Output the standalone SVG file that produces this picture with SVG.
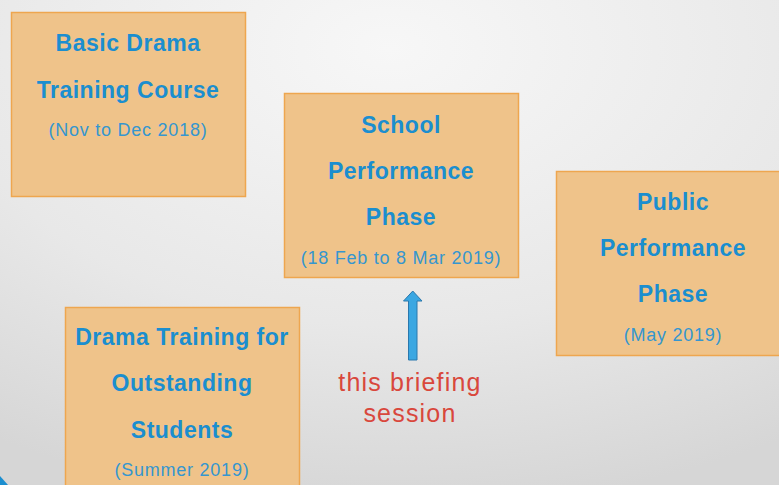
<svg xmlns="http://www.w3.org/2000/svg" width="779" height="485" viewBox="0 0 779 485">
<defs>
<radialGradient id="bg" cx="0.5" cy="0.1" r="0.95">
<stop offset="0" stop-color="#f7f7f7"/>
<stop offset="0.6" stop-color="#e8e8e8"/>
<stop offset="1" stop-color="#d6d6d6"/>
</radialGradient>
<style>
.box{fill:#efc38a;stroke:#eea64f;stroke-width:1.5}
.t{font-family:"Liberation Sans",Arial,sans-serif;font-weight:bold;font-size:23px;letter-spacing:0.5px;fill:#1b8ecf;text-anchor:middle}
.s{font-family:"Liberation Sans",Arial,sans-serif;font-size:18px;letter-spacing:0.75px;fill:#3596cf;text-anchor:middle}
.r{font-family:"Liberation Sans",Arial,sans-serif;font-size:25px;letter-spacing:1.2px;fill:#d9473c;text-anchor:middle}
</style>
</defs>
<rect width="779" height="485" fill="url(#bg)"/>
<path d="M0,476 L8,485 L0,485 Z" fill="#1b8ecf"/>
<g id="node-basic">
<rect class="box" x="11.5" y="12.5" width="234" height="184"/>
<text class="t" x="128" y="51">Basic Drama</text>
<text class="t" x="128" y="98">Training Course</text>
<text class="s" x="128" y="136">(Nov to Dec 2018)</text>
</g>
<g id="node-school">
<rect class="box" x="284.5" y="93.5" width="234" height="184"/>
<text class="t" x="401" y="133">School</text>
<text class="t" x="401" y="179">Performance</text>
<text class="t" x="401" y="225">Phase</text>
<text class="s" x="401" y="264">(18 Feb to 8 Mar 2019)</text>
</g>
<g id="node-public">
<rect class="box" x="556.5" y="171.5" width="234" height="184"/>
<text class="t" x="673" y="210">Public</text>
<text class="t" x="673" y="256">Performance</text>
<text class="t" x="673" y="302">Phase</text>
<text class="s" x="673" y="341">(May 2019)</text>
</g>
<g id="node-outstanding">
<rect class="box" x="65.5" y="307.5" width="234" height="184"/>
<text class="t" x="182" y="345">Drama Training for</text>
<text class="t" x="182" y="391">Outstanding</text>
<text class="t" x="182" y="438">Students</text>
<text class="s" x="182" y="476">(Summer 2019)</text>
</g>
<g id="connectors">
<path d="M408.5,360 L408.5,301 L403.5,301 L412.75,291 L422,301 L417,301 L417,360 Z" fill="#3aa7e2" stroke="#2a78ad" stroke-width="1"/>
</g>
<g id="label-briefing">
<text class="r" x="410" y="391">this briefing</text>
<text class="r" x="410" y="422">session</text>
</g>
</svg>
